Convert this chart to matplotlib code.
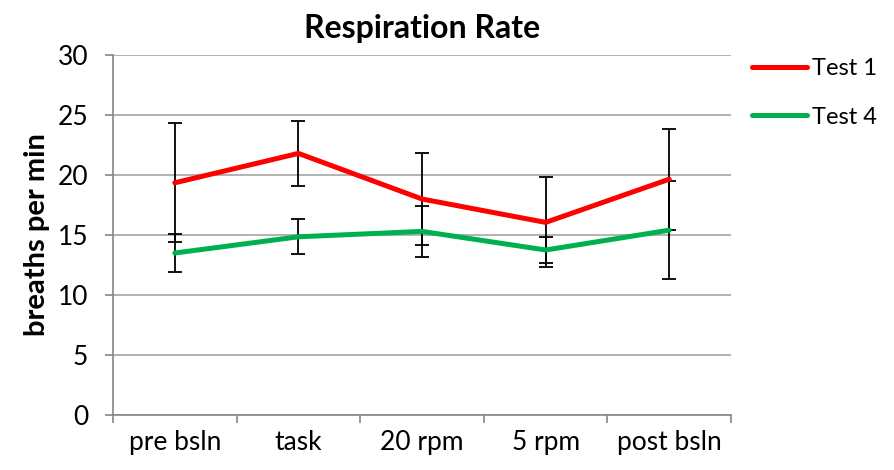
import matplotlib.pyplot as plt
import numpy as np

plt.rcParams['font.family'] = ['Lato', 'DejaVu Sans']

# data
categories = ['pre bsln', 'task', '20 rpm', '5 rpm', 'post bsln']
test1 = [19.35, 21.8, 18.0, 16.05, 19.65]
test1_err = [4.95, 2.7, 3.8, 3.75, 4.2]
test4 = [13.5, 14.85, 15.3, 13.75, 15.4]
test4_err = [1.6, 1.45, 2.1, 1.1, 4.1]

fig = plt.figure(figsize=(8.94, 4.70), dpi=100)
ax = fig.add_axes([0.1264, 0.117, 0.6913, 0.766])

x = np.arange(len(categories))
grid_c = '#a6a6a6'
axis_c = '#868686'

# error bars under the lines
ax.errorbar(x, test1, yerr=test1_err, fmt='none', ecolor='black',
            elinewidth=1.3, capsize=5, capthick=1.3, zorder=2)
ax.errorbar(x, test4, yerr=test4_err, fmt='none', ecolor='black',
            elinewidth=1.3, capsize=5, capthick=1.3, zorder=2)

ax.plot(x, test1, color='#ff0000', linewidth=3.6, label='Test 1',
        solid_capstyle='round', zorder=3)
ax.plot(x, test4, color='#00b050', linewidth=3.6, label='Test 4',
        solid_capstyle='round', zorder=3)

ax.set_xlim(-0.5, len(categories) - 0.5)
ax.set_ylim(0, 30)
ax.set_yticks(np.arange(0, 31, 5))
ax.yaxis.grid(True, color=grid_c, linewidth=1.2)
ax.set_axisbelow(True)

ax.set_xticks(x)
ax.set_xticklabels(categories)
ax.set_xticks(np.arange(-0.5, len(categories), 1), minor=True)
ax.tick_params(axis='x', which='major', length=0, pad=11, labelsize=19)
ax.tick_params(axis='x', which='minor', length=6, color=axis_c, width=1.2)
ax.tick_params(axis='y', length=6, color=axis_c, width=1.2, pad=12, labelsize=19)

for s in ['top', 'right']:
    ax.spines[s].set_visible(False)
for s in ['left', 'bottom']:
    ax.spines[s].set_color(axis_c)
    ax.spines[s].set_linewidth(1.2)

ax.set_ylabel('breaths per min', fontsize=21, fontweight='bold', labelpad=5)
ax.set_title('Respiration Rate', fontsize=23, fontweight='bold', pad=12.5)

fig.legend(loc='upper left', bbox_to_anchor=(0.8177, 0.921), frameon=False,
           fontsize=17, handlelength=2.3, handletextpad=0.25, labelspacing=1.15)

plt.savefig('out.png', dpi=100)
